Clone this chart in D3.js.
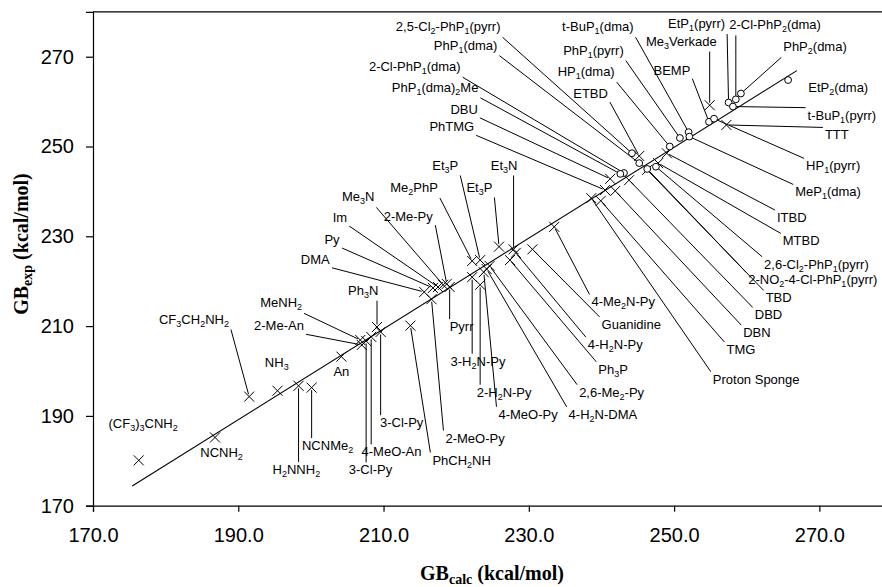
<!DOCTYPE html>
<html>
<head>
<meta charset="utf-8">
<script src="https://cdn.jsdelivr.net/npm/d3@7"></script>
<style>
  body { margin: 0; background: #fff; }
  text { font-family: "Liberation Sans", Arial, sans-serif; fill: #000; }
</style>
</head>
<body>
<svg id="chart" width="882" height="587"></svg>
<script>
// ---- data (GB in kcal/mol), "_n" marks a subscript ----
var names = ["(CF_3)_3CNH_2","NCNH_2","CF_3CH_2NH_2","NH_3","H_2NNH_2","NCNMe_2","An","MeNH_2","2-Me-An","3-Cl-Py",
  "4-MeO-An","Ph_3N","3-Cl-Py","PhCH_2NH","2-MeO-Py","DMA","Py","Im","Me_3N","2-Me-Py",
  "Pyrr","Me_2PhP","Et_3P","3-H_2N-Py","2-H_2N-Py","4-MeO-Py","4-H_2N-DMA","2,6-Me_2-Py","Ph_3P","Et_3P",
  "Et_3N","4-H_2N-Py","Guanidine","4-Me_2N-Py","PhTMG","DBU","Proton Sponge","TMG","DBN","DBD",
  "TBD","MTBD","ITBD","ETBD","Me_3Verkade","TTT","2,5-Cl_2-PhP_1(pyrr)","PhP_1(dma)","2-Cl-PhP_1(dma)","PhP_1(dma)_2Me",
  "2-NO_2-4-Cl-PhP_1(pyrr)","2,6-Cl_2-PhP_1(pyrr)","HP_1(dma)","PhP_1(pyrr)","t-BuP_1(dma)","MeP_1(dma)","BEMP","HP_1(pyrr)","EtP_1(pyrr)","t-BuP_1(pyrr)",
  "2-Cl-PhP_2(dma)","PhP_2(dma)","EtP_2(dma)"];
var gbCalc = [176.3,186.8,191.5,195.4,198.3,200.1,204.2,206.8,207.0,207.6,
  208.3,209.1,209.6,213.7,216.6,215.6,216.8,217.5,218.2,218.7,
  219.1,222.2,223.3,222.2,223.3,223.8,224.2,224.6,227.4,225.9,
  227.9,228.2,230.5,233.5,240.5,241.2,238.6,239.9,241.9,243.8,
  246.3,247.8,249.0,245.2,254.9,257.2,244.2,245.2,243.1,242.6,
  246.3,247.5,249.4,250.8,252.0,252.1,254.8,255.5,257.5,258.1,
  258.5,259.2,265.7];
var gbExp = [180.1,185.2,194.3,195.6,196.7,196.3,203.2,206.9,205.8,206.7,
  207.6,209.8,208.7,210.1,216.0,217.6,218.5,218.7,219.2,219.4,
  218.7,224.5,224.7,220.9,219.2,222.0,222.7,223.4,224.7,227.7,
  227.1,226.3,227.1,232.1,240.3,242.8,238.5,237.9,240.1,242.5,
  244.8,246.3,248.5,247.9,259.2,254.8,248.5,246.3,244.1,243.9,
  245.0,245.5,250.0,251.9,253.2,252.2,255.5,256.2,259.8,258.9,
  260.5,261.8,264.8];
// x = other bases, o = phosphazenes
var kind = ["x","x","x","x","x","x","x","x","x","x",
  "x","x","x","x","x","x","x","x","x","x",
  "x","x","x","x","x","x","x","x","x","x",
  "x","x","x","x","x","x","x","x","x","x",
  "x","x","x","x","x","x","o","o","o","o",
  "o","o","o","o","o","o","o","o","o","o",
  "o","o","o"];
// where each name is written, in axis units
var labelCalc = [176.9,187.7,183.9,195.3,198.0,202.3,204.2,195.9,195.6,208.2,
  211.1,207.2,212.5,220.75,222.6,200.6,202.9,204.0,206.5,213.4,
  220.75,214.2,218.5,223.0,226.6,229.9,240.2,241.4,241.6,223.2,
  226.6,241.9,244.1,243.0,219.4,221.1,261.3,259.2,261.4,263.0,
  264.4,267.5,266.2,238.5,251.0,272.4,218.9,221.3,214.3,217.1,
  269.1,269.6,237.9,238.9,239.5,271.2,249.7,271.9,253.1,273.1,
  263.9,269.4,272.6];
var labelExp = [188.4,181.8,211.6,201.9,178.1,183.4,200.0,215.2,210.1,178.0,
  182.0,218.0,188.5,180.2,185.1,224.9,229.3,234.2,238.8,234.4,
  209.9,240.9,245.9,202.2,195.3,190.4,190.4,195.3,200.4,241.0,
  245.9,205.9,210.4,215.4,254.4,258.3,198.2,204.8,208.6,212.5,
  216.3,229.0,234.2,261.8,273.5,252.6,276.7,272.6,267.8,263.2,
  220.3,223.8,266.7,271.5,276.7,239.9,267.0,245.7,277.4,257.0,
  277.1,272.2,263.2];
var hasLeader = [0,0,1,0,1,1,0,1,1,1, 1,1,1,1,1,1,1,1,1,1, 1,1,1,1,1,1,1,1,1,1,
  1,1,1,1,1,1,1,1,1,1, 1,1,1,1,1,1,1,1,1,1, 1,1,1,1,1,1,1,1,1,1, 1,1,0];

var fitCalc = [175.4, 266.9];
var fitExp = [174.4, 266.9];
var xTicks = [170, 190, 210, 230, 250, 270];
var yTicks = [170, 190, 210, 230, 250, 270];

// ---- layout ----
var svg = d3.select("#chart");
var x = d3.scaleLinear().domain([170, 280]).range([93, 892]);
var y = d3.scaleLinear().domain([170, 280]).range([505.7, 11.8]);

var points = names.map(function(n, i) {
  return {name: n, calc: gbCalc[i], exp: gbExp[i], kind: kind[i],
          lc: labelCalc[i], le: labelExp[i], leader: hasLeader[i]};
});

// axes
var xAxis = svg.append("g").attr("transform", "translate(0,505.7)")
  .call(d3.axisBottom(x).tickValues(xTicks).tickFormat(d3.format(".1f"))
    .tickSizeOuter(0).tickSize(6).tickPadding(16));
var yAxis = svg.append("g").attr("transform", "translate(93,0)")
  .call(d3.axisLeft(y).tickValues(yTicks).tickFormat(d3.format("d"))
    .tickSizeOuter(0).tickSize(7).tickPadding(12));
[xAxis, yAxis].forEach(function(a) {
  a.selectAll("text").style("font-size", "20px").attr("fill", "#000");
  a.selectAll("line,path").attr("stroke", "#000").attr("stroke-width", 1.2);
});
svg.append("line").attr("x1", 93).attr("x2", 892).attr("y1", y(280)).attr("y2", y(280))
  .attr("stroke", "#000").attr("stroke-width", 1.2);

// axis titles
var xt = svg.append("text").attr("x", 492).attr("y", 580).attr("text-anchor", "middle")
  .style("font-family", "'Liberation Serif','Times New Roman',serif").style("font-weight", "bold").style("font-size", "20px");
xt.append("tspan").text("GB");
xt.append("tspan").attr("dy", 4).style("font-size", "14px").text("calc");
xt.append("tspan").attr("dy", -4).text(" (kcal/mol)");

var yt = svg.append("text").attr("transform", "translate(28,244) rotate(-90)").attr("text-anchor", "middle")
  .style("font-family", "'Liberation Serif','Times New Roman',serif").style("font-weight", "bold").style("font-size", "20px");
yt.append("tspan").text("GB");
yt.append("tspan").attr("dy", 4).style("font-size", "14px").text("exp");
yt.append("tspan").attr("dy", -4).text(" (kcal/mol)");

// fit line
svg.append("line")
  .attr("x1", x(fitCalc[0])).attr("y1", y(fitExp[0]))
  .attr("x2", x(fitCalc[1])).attr("y2", y(fitExp[1]))
  .attr("stroke", "#000").attr("stroke-width", 1.1);

// labels with subscripts
function richText(t, s) {
  var parts = s.split(/_(\d+)/);
  var shift = 0;
  parts.forEach(function(p, i) {
    if (!p) return;
    var sub = i % 2 === 1;
    var want = sub ? 3 : 0;
    t.append("tspan").attr("dy", want - shift).style("font-size", sub ? "9px" : null).text(p);
    shift = want;
  });
}

var labelG = svg.append("g");
var leaderG = svg.append("g");
points.forEach(function(d) {
  var t = labelG.append("text")
    .attr("x", x(d.lc)).attr("y", y(d.le) + 4.6)
    .attr("text-anchor", "middle").style("font-size", "13px");
  richText(t, d.name);
  if (!d.leader) return;
  // leader starts at the point of the label box nearest to its marker
  var bb = t.node().getBBox();
  var px = x(d.calc), py = y(d.exp);
  var sx = Math.max(bb.x - 2, Math.min(px, bb.x + bb.width + 2));
  var sy = Math.max(bb.y, Math.min(py, bb.y + bb.height + 1));
  var dx = px - sx, dy = py - sy;
  var len = Math.sqrt(dx * dx + dy * dy);
  var t1 = 1 - 2.5 / len;
  leaderG.append("line")
    .attr("x1", sx).attr("y1", sy)
    .attr("x2", sx + dx * t1).attr("y2", sy + dy * t1)
    .attr("stroke", "#000").attr("stroke-width", 1);
});

// markers
var mk = svg.append("g");
points.forEach(function(d) {
  var px = x(d.calc), py = y(d.exp);
  if (d.kind === "x") {
    mk.append("path")
      .attr("d", "M" + (px - 5) + "," + (py - 5) + "L" + (px + 5) + "," + (py + 5) +
                 "M" + (px - 5) + "," + (py + 5) + "L" + (px + 5) + "," + (py - 5))
      .attr("stroke", "#000").attr("stroke-width", 1);
  } else {
    mk.append("circle").attr("cx", px).attr("cy", py).attr("r", 3.4)
      .attr("fill", "#fff").attr("stroke", "#000").attr("stroke-width", 1);
  }
});
</script>
</body>
</html>
